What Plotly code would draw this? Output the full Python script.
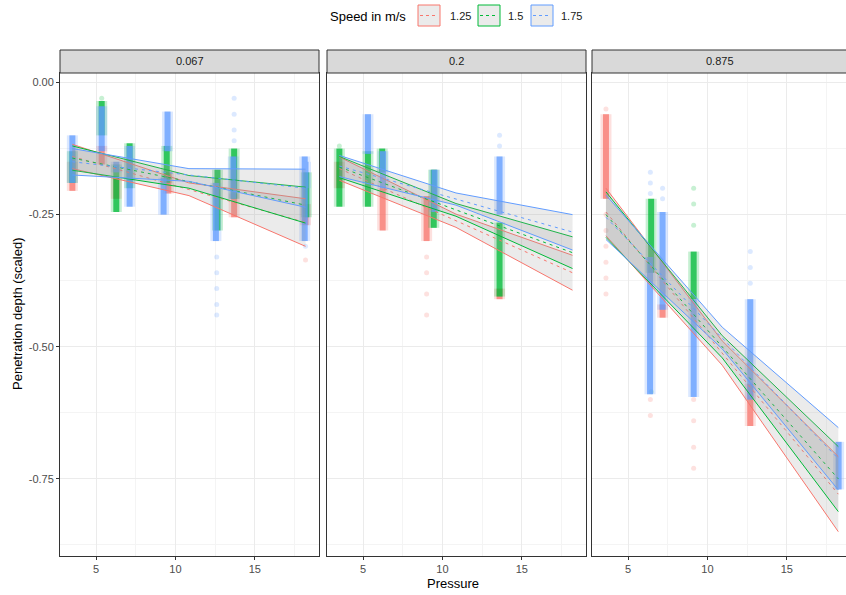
import plotly.graph_objects as go

# ---------------- data ----------------
panel_labels = ["0.067", "0.2", "0.875"]
speed_labels = ["1.25", "1.5", "1.75"]
speed_colors = ["#F8766D", "#00BA38", "#619CFF"]

# dense cores of the jittered point clouds (long format)
cloud_panel = [0, 0, 0, 0, 0, 0,
               0, 0, 0, 0, 0, 0, 0, 0,
               0, 0, 0, 0, 0, 0, 0, 0, 0, 0,
               1, 1, 1, 1,
               1, 1, 1, 1, 1,
               1, 1, 1, 1,
               2, 2, 2,
               2, 2,
               2, 2, 2, 2, 2]
cloud_speed = [0, 0, 0, 0, 0, 0,
               1, 1, 1, 1, 1, 1, 1, 1,
               2, 2, 2, 2, 2, 2, 2, 2, 2, 2,
               0, 0, 0, 0,
               1, 1, 1, 1, 1,
               2, 2, 2, 2,
               0, 0, 0,
               1, 1,
               2, 2, 2, 2, 2]
cloud_pressure = [3.5, 5.35, 6.27, 9.55, 13.7, 18.2,
                  3.5, 5.35, 6.27, 7.11, 9.45, 12.65, 13.7, 18.25,
                  3.5, 5.35, 6.27, 7.11, 9.25, 9.5, 12.55, 13.65, 18.15, 18.2,
                  3.5, 6.23, 9.0, 13.6,
                  3.5, 5.3, 6.2, 9.45, 13.6,
                  5.3, 6.25, 9.5, 13.6,
                  3.6, 7.17, 12.7,
                  6.45, 9.13,
                  6.38, 7.17, 9.13, 12.7, 18.27]
cloud_low = [-0.205, -0.155, -0.22, -0.21, -0.255, -0.27,
             -0.19, -0.10, -0.245, -0.20, -0.19, -0.28, -0.22, -0.255,
             -0.19, -0.13, -0.17, -0.235, -0.25, -0.13, -0.30, -0.22, -0.30, -0.20,
             -0.20, -0.28, -0.30, -0.41,
             -0.235, -0.235, -0.17, -0.275, -0.405,
             -0.135, -0.20, -0.245, -0.25,
             -0.22, -0.445, -0.65,
             -0.36, -0.41,
             -0.59, -0.43, -0.595, -0.60, -0.77]
cloud_high = [-0.15, -0.12, -0.18, -0.17, -0.21, -0.23,
              -0.13, -0.035, -0.155, -0.115, -0.12, -0.165, -0.125, -0.17,
              -0.10, -0.045, -0.15, -0.12, -0.18, -0.055, -0.19, -0.14, -0.14, -0.15,
              -0.15, -0.20, -0.215, -0.39,
              -0.125, -0.13, -0.125, -0.165, -0.265,
              -0.06, -0.13, -0.165, -0.14,
              -0.06, -0.42, -0.57,
              -0.22, -0.32,
              -0.33, -0.245, -0.41, -0.41, -0.68]

# sparse individual points
pt_panel = [0, 0, 0, 0, 0, 0, 0, 0, 0, 0, 0, 0,
            1, 1, 1, 1, 1, 1, 1,
            2, 2, 2, 2, 2, 2, 2, 2, 2, 2, 2, 2, 2, 2, 2, 2, 2, 2, 2, 2, 2, 2, 2, 2, 2]
pt_speed = [2, 2, 2, 2, 2, 2, 2, 2, 2, 0, 2, 1,
            0, 0, 0, 0, 2, 2, 1,
            0, 0, 0, 0, 0, 0, 0, 0, 0, 0, 0, 0, 0, 2, 2, 2, 2, 2, 1, 1, 1, 2, 2, 2, 1]
pt_pressure = [12.6, 12.6, 12.6, 12.6, 12.6, 13.7, 13.7, 13.7, 13.7, 18.2, 18.2, 5.35,
               9.0, 9.0, 9.0, 9.0, 13.6, 13.6, 3.5,
               3.6, 3.6, 3.6, 3.6, 3.6, 3.6, 3.6, 6.4, 6.4, 9.13, 9.13, 9.13, 9.13,
               6.4, 6.4, 6.4, 7.17, 7.17, 9.13, 9.13, 9.13, 12.7, 12.7, 12.7, 6.45]
pt_depth = [-0.33, -0.36, -0.39, -0.42, -0.44, -0.03, -0.06, -0.09, -0.11, -0.336, -0.31, -0.03,
            -0.33, -0.36, -0.40, -0.44, -0.10, -0.12, -0.12,
            -0.05, -0.25, -0.28, -0.31, -0.34, -0.37, -0.40, -0.60, -0.63, -0.60, -0.64, -0.69, -0.73,
            -0.17, -0.19, -0.21, -0.20, -0.22, -0.20, -0.23, -0.27, -0.32, -0.35, -0.38, -0.585]

# linear fits with confidence bands (one per panel x speed)
fit_panel = [0, 0, 0, 1, 1, 1, 2, 2, 2]
fit_speed = [0, 1, 2, 0, 1, 2, 0, 1, 2]
fit_p_start = [3.5, 3.5, 3.5, 3.5, 3.5, 3.5, 3.6, 3.6, 3.6]
fit_p_mid = [10.85, 10.85, 10.85, 10.85, 10.85, 10.85, 10.93, 10.93, 10.93]
fit_p_end = [18.2, 18.2, 18.2, 18.2, 18.2, 18.2, 18.25, 18.25, 18.25]
fit_d_start = [-0.14, -0.143, -0.15, -0.163, -0.16, -0.158, -0.245, -0.25, -0.255]
fit_d_end = [-0.265, -0.232, -0.20, -0.36, -0.322, -0.283, -0.779, -0.75, -0.712]
ci_low = [[-0.163, -0.214, -0.31], [-0.166, -0.20, -0.266], [-0.175, -0.187, -0.236],
          [-0.185, -0.274, -0.393], [-0.18, -0.253, -0.352], [-0.178, -0.232, -0.317],
          [-0.29, -0.535, -0.85], [-0.293, -0.521, -0.812], [-0.297, -0.504, -0.771]]
ci_high = [[-0.117, -0.19, -0.22], [-0.12, -0.176, -0.198], [-0.125, -0.163, -0.164],
           [-0.141, -0.249, -0.327], [-0.14, -0.229, -0.292], [-0.138, -0.209, -0.25],
           [-0.20, -0.489, -0.708], [-0.207, -0.479, -0.689], [-0.213, -0.463, -0.653]]

x_ticks = [5, 10, 15]
x_minor = [2.5, 7.5, 12.5, 17.5]
y_ticks = [0.0, -0.25, -0.5, -0.75]
y_ticktext = ["0.00", "-0.25", "-0.50", "-0.75"]
y_minor = [-0.125, -0.375, -0.625, -0.875]

# ---------------- geometry ----------------
W, H = 846, 595
FONT = "Liberation Sans, Arial, sans-serif"
panel_px = [(60, 319), (327, 586), (592, 846)]
top_px, bottom_px, strip_top_px = 73, 556, 50
px_per_unit = 15.86
x_start = 2.72
y_range = [-0.896, 0.018]


def fx(px):
    return px / W


def fy(py):
    return 1 - py / H


def ax_suffix(i):
    return "" if i == 0 else str(i + 1)


fig = go.Figure()

# point clouds: soft halo + dense core segments, then sparse points
for s in range(3):
    for p in range(3):
        xs, ys = [], []
        for k in range(len(cloud_panel)):
            if cloud_panel[k] == p and cloud_speed[k] == s:
                xs += [cloud_pressure[k], cloud_pressure[k], None]
                ys += [cloud_low[k], cloud_high[k], None]
        sfx = ax_suffix(p)
        if xs:
            fig.add_trace(go.Scatter(x=xs, y=ys, mode="lines", xaxis="x" + sfx, yaxis="y" + sfx,
                                     line=dict(color=speed_colors[s], width=11), opacity=0.22,
                                     hoverinfo="skip", showlegend=False))
            fig.add_trace(go.Scatter(x=xs, y=ys, mode="lines", xaxis="x" + sfx, yaxis="y" + sfx,
                                     line=dict(color=speed_colors[s], width=6), opacity=0.75,
                                     hoverinfo="skip", showlegend=False))
        px_, py_ = [], []
        for k in range(len(pt_panel)):
            if pt_panel[k] == p and pt_speed[k] == s:
                px_.append(pt_pressure[k])
                py_.append(pt_depth[k])
        if px_:
            fig.add_trace(go.Scatter(x=px_, y=py_, mode="markers", xaxis="x" + sfx, yaxis="y" + sfx,
                                     marker=dict(color=speed_colors[s], size=5, opacity=0.22),
                                     hoverinfo="skip", showlegend=False))

# fits: ribbon, edges, dashed line
for k in range(len(fit_panel)):
    p, s = fit_panel[k], fit_speed[k]
    sfx = ax_suffix(p)
    bx = [fit_p_start[k], fit_p_mid[k], fit_p_end[k]]
    fig.add_trace(go.Scatter(x=bx + bx[::-1], y=ci_high[k] + ci_low[k][::-1],
                             mode="lines", fill="toself", fillcolor="rgba(153,153,153,0.2)",
                             line=dict(width=0), xaxis="x" + sfx, yaxis="y" + sfx,
                             hoverinfo="skip", showlegend=False))
    for edge in (ci_high[k], ci_low[k]):
        fig.add_trace(go.Scatter(x=bx, y=edge, mode="lines", xaxis="x" + sfx, yaxis="y" + sfx,
                                 line=dict(color=speed_colors[s], width=1),
                                 hoverinfo="skip", showlegend=False))
    fig.add_trace(go.Scatter(x=[fit_p_start[k], fit_p_end[k]], y=[fit_d_start[k], fit_d_end[k]],
                             mode="lines", xaxis="x" + sfx, yaxis="y" + sfx,
                             line=dict(color=speed_colors[s], width=1, dash="3px,4px"),
                             hoverinfo="skip", showlegend=False))

layout = dict(width=W, height=H, margin=dict(l=0, r=0, t=0, b=0),
              paper_bgcolor="white", plot_bgcolor="white", showlegend=False,
              font=dict(family=FONT, color="#1A1A1A"))

shapes, annotations = [], []
for i, (l, r) in enumerate(panel_px):
    sfx = ax_suffix(i)
    x_end = x_start + (r - l) / px_per_unit
    layout["xaxis" + sfx] = dict(
        domain=[fx(l), fx(r)], range=[x_start, x_end], anchor="y" + sfx,
        tickmode="array", tickvals=x_ticks, ticks="outside", ticklen=3, tickwidth=1,
        tickcolor="#333333", tickfont=dict(size=11, color="#4D4D4D", family=FONT),
        showline=True, linecolor="#333333", linewidth=1, mirror=True,
        showgrid=True, gridcolor="#EBEBEB", gridwidth=1, zeroline=False,
        minor=dict(tickvals=x_minor, showgrid=True, gridcolor="#F4F4F4", gridwidth=1, ticks=""),
        automargin=False)
    layout["yaxis" + sfx] = dict(
        domain=[fy(bottom_px), fy(top_px)], range=y_range, anchor="x" + sfx,
        tickmode="array", tickvals=y_ticks, ticktext=y_ticktext,
        ticks="outside" if i == 0 else "", ticklen=3, tickwidth=1, tickcolor="#333333",
        showticklabels=(i == 0), tickfont=dict(size=11, color="#4D4D4D", family=FONT),
        showline=True, linecolor="#333333", linewidth=1, mirror=(i < 2),
        showgrid=True, gridcolor="#EBEBEB", gridwidth=1, zeroline=False,
        minor=dict(tickvals=y_minor, showgrid=True, gridcolor="#F4F4F4", gridwidth=1, ticks=""),
        automargin=False)
    # strip
    shapes.append(dict(type="rect", xref="paper", yref="paper",
                       x0=fx(l), x1=fx(r + 8) if i == 2 else fx(r),
                       y0=fy(top_px), y1=fy(strip_top_px),
                       fillcolor="#D9D9D9", line=dict(color="#333333", width=1)))
    cx = (l + r) / 2 if i < 2 else 720
    annotations.append(dict(text=panel_labels[i], x=fx(cx), y=fy((top_px + strip_top_px) / 2),
                            xref="paper", yref="paper", showarrow=False,
                            font=dict(size=11, color="#1A1A1A", family=FONT),
                            xanchor="center", yanchor="middle"))

# axis titles
annotations.append(dict(text="Pressure", x=fx(453), y=fy(583), xref="paper", yref="paper",
                        showarrow=False, font=dict(size=13, color="black", family=FONT),
                        xanchor="center", yanchor="middle"))
annotations.append(dict(text="Penetration depth (scaled)", x=fx(17), y=fy(314), xref="paper",
                        yref="paper", showarrow=False, textangle=-90,
                        font=dict(size=13, color="black", family=FONT),
                        xanchor="center", yanchor="middle"))

# legend (drawn manually)
annotations.append(dict(text="Speed in m/s", x=fx(328), y=fy(16), xref="paper", yref="paper",
                        showarrow=False, font=dict(size=13, color="black", family=FONT),
                        xanchor="left", yanchor="middle"))
key_left = [418, 478, 531]
label_left = [448, 506, 559]
for s in range(3):
    kl = key_left[s]
    shapes.append(dict(type="rect", xref="paper", yref="paper", x0=fx(kl), x1=fx(kl + 22),
                       y0=fy(26), y1=fy(5), fillcolor="rgba(153,153,153,0.2)",
                       line=dict(color=speed_colors[s], width=1)))
    shapes.append(dict(type="line", xref="paper", yref="paper", x0=fx(kl + 2), x1=fx(kl + 20),
                       y0=fy(15.5), y1=fy(15.5),
                       line=dict(color=speed_colors[s], width=1, dash="3px,3px")))
    annotations.append(dict(text=speed_labels[s], x=fx(label_left[s]), y=fy(16), xref="paper",
                            yref="paper", showarrow=False,
                            font=dict(size=11, color="#1A1A1A", family=FONT),
                            xanchor="left", yanchor="middle"))

layout["shapes"] = shapes
layout["annotations"] = annotations
fig.update_layout(**layout)
fig.write_html("out.html")
